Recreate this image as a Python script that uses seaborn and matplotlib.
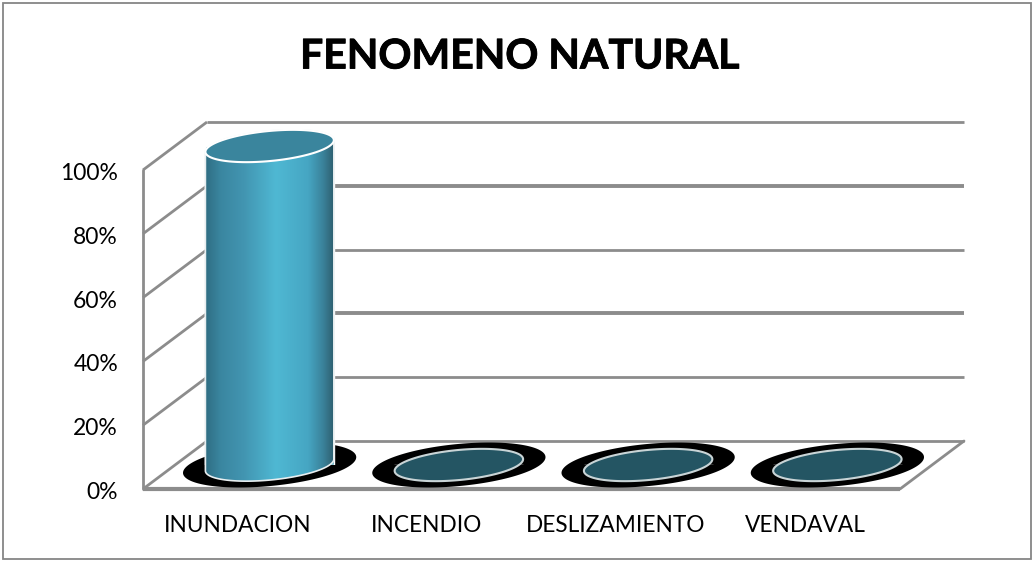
import numpy as np
import seaborn as sns
import matplotlib
matplotlib.use("Agg")
import matplotlib.pyplot as plt
import matplotlib.patheffects as pe
from matplotlib.colors import LinearSegmentedColormap
from matplotlib.patches import Polygon, Rectangle
from matplotlib.transforms import Affine2D

# Data
categories = ["INUNDACION", "INCENDIO", "DESLIZAMIENTO", "VENDAVAL"]
values = [1.0, 0.0, 0.0, 0.0]
y_ticks = [0.0, 0.2, 0.4, 0.6, 0.8, 1.0]
y_labels = ["0%", "20%", "40%", "60%", "80%", "100%"]
title = "FENOMENO NATURAL"

W, H = 1034, 561
LEFT, RIGHT, BOTTOM, TOP = 143, 900, 489, 170   # front plane, pixels from top left
DEPTH_X, DEPTH_Y = 64, 48
CAT_PX = (RIGHT - LEFT) / 4
VAL_PX = BOTTOM - TOP
GRAY = "#8c8c8c"

sns.set_theme(style="white")
plt.rcParams["font.family"] = ["Lato", "DejaVu Sans"]

fig = plt.figure(figsize=(W / 100, H / 100), dpi=100, facecolor="white")
fig.add_artist(Rectangle((3 / W, 2 / H), 1028 / W, 556 / H, transform=fig.transFigure,
                         fill=False, ec="#868686", lw=1.3))
t = fig.text(519.5 / W, 1 - 57 / H, title, ha="center", va="center", fontsize=29.5,
             fontweight="bold", color="black")
t.set_path_effects([pe.withStroke(linewidth=0.6, foreground="black")])


def make_axes(shift_x=0, shift_y=0):
    a = fig.add_axes([(LEFT + shift_x) / W, (H - BOTTOM + shift_y) / H,
                      (RIGHT - LEFT) / W, VAL_PX / H])
    a.patch.set_alpha(0)
    a.set_xlim(-0.5, 3.5)
    a.set_ylim(0, 1)
    sns.despine(ax=a, left=True, bottom=True)
    return a


# Walls, floor and grid
ax = make_axes()
dx = DEPTH_X / CAT_PX
dy = DEPTH_Y / VAL_PX
grid_lw = [2, 2, 2.8, 2, 2.8, 2]
for v, lw in zip(y_ticks, grid_lw):
    ax.plot([-0.5, -0.5 + dx], [v, v + dy], color=GRAY, lw=2, clip_on=False, solid_capstyle="butt")
    ax.plot([-0.5 + dx, 3.5 + dx], [v + dy, v + dy], color=GRAY, lw=lw, clip_on=False,
            solid_capstyle="butt")
ax.plot([-0.5, -0.5], [0, 1], color=GRAY, lw=2, clip_on=False)
ax.plot([-0.5, 3.5], [0, 0], color=GRAY, lw=3, clip_on=False, solid_capstyle="butt")
ax.plot([3.5, 3.5 + dx], [0, dy], color=GRAY, lw=2, clip_on=False)

ax.set_xticks(range(len(categories)), categories)
ax.set_yticks(y_ticks, y_labels)
ax.tick_params(axis="x", length=0, pad=19, labelsize=16.3, labelcolor="black")
ax.tick_params(axis="y", length=0, pad=18, labelsize=16.5, labelcolor="black")
for lbl in ax.get_yticklabels():
    lbl.set_transform(lbl.get_transform() + Affine2D().translate(0, -1.5))

# Cylinders sit half way back in the floor
ax_bar = make_axes(DEPTH_X / 2, DEPTH_Y / 2)
sns.barplot(x=categories, y=values, ax=ax_bar, width=129 / CAT_PX, color="#4db6d0", legend=False)
ax_bar.set_xlim(-0.5, 3.5)
ax_bar.set_ylim(0, 1)
ax_bar.axis("off")

TILT = np.radians(5.5)
CAP_H = 30
side_cmap = LinearSegmentedColormap.from_list(
    "side", [(0, "#2f6d82"), (0.12, "#3a86a0"), (0.3, "#4295b1"), (0.55, "#4fb8d3"),
             (0.8, "#46a6c3"), (0.92, "#3a8199"), (1, "#2e5f70")])


def ellipse_xy(cx, cy, w_px, h_px, t):
    a, b = w_px / 2, h_px / 2
    px = a * np.cos(t) * np.cos(TILT) - b * np.sin(t) * np.sin(TILT)
    py = a * np.cos(t) * np.sin(TILT) + b * np.sin(t) * np.cos(TILT)
    return cx + px / CAT_PX, cy + py / VAL_PX


full = np.linspace(0, 2 * np.pi, 200)
for bar, v in zip(ax_bar.patches, values):
    cx = bar.get_x() + bar.get_width() / 2
    w_px = bar.get_width() * CAT_PX
    bar.set_zorder(2)

    sx, sy = ellipse_xy(cx, 0, w_px + 45, 42, full)
    ax_bar.fill(sx, sy, color="black", lw=0, zorder=1, clip_on=False)

    if v > 0:
        t_r = np.arctan2(-CAP_H * np.sin(TILT), w_px * np.cos(TILT))
        x1, y1 = ellipse_xy(cx, 0, w_px, CAP_H, np.linspace(t_r + np.pi, t_r + 2 * np.pi, 80))
        x2, y2 = ellipse_xy(cx, v, w_px, CAP_H, np.linspace(t_r, t_r + np.pi, 80))
        outline = np.column_stack([np.r_[x1, x2], np.r_[y1, y2]])
        body = Polygon(outline, closed=True, fc="none", ec="#e8eef0", lw=1.2, zorder=4, clip_on=False)
        ax_bar.add_patch(body)
        im = ax_bar.imshow(np.linspace(0, 1, 256)[None, :], cmap=side_cmap, aspect="auto",
                           extent=[bar.get_x(), bar.get_x() + bar.get_width(), -0.1, v + 0.1],
                           zorder=3)
        im.set_clip_path(body)
        im.set_clip_box(fig.bbox)
        tx, ty = ellipse_xy(cx, v, w_px, CAP_H, full)
        ax_bar.fill(tx, ty, fc="#3a859d", ec="white", lw=1.5, zorder=5, clip_on=False)
    else:
        tx, ty = ellipse_xy(cx, v, w_px, CAP_H, full)
        ax_bar.fill(tx, ty, fc="#245563", ec="#c9d4d6", lw=1.5, zorder=5, clip_on=False)

ax_bar.set_xlim(-0.5, 3.5)
ax_bar.set_ylim(0, 1)

fig.savefig("out.png", dpi=100)
